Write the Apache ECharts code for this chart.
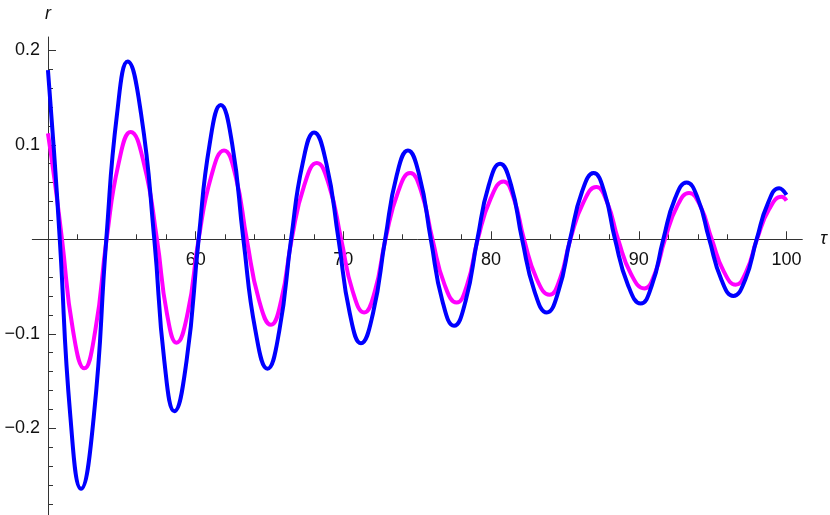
<!DOCTYPE html>
<html>
<head>
<meta charset="utf-8">
<script src="https://cdn.jsdelivr.net/npm/echarts@6/dist/echarts.min.js"></script>
<style>
html,body{margin:0;padding:0;background:#fff;}
#chart{width:830px;height:515px;}
</style>
</head>
<body>
<div id="chart"></div>
<script>
// Blue curve: [tau, r]
const blueSeries = [
  [50, 0.179], [50.4, 0.095], [50.8, 0], [51.52, -0.188], [52.24, -0.264], [53.1, -0.188],
  [53.95, 0], [54.68, 0.133], [55.4, 0.188], [56.3, 0.133], [57.2, 0], [57.88, -0.129],
  [58.56, -0.182], [59.38, -0.129], [60.2, 0], [60.95, 0.101], [61.7, 0.142], [62.47, 0.101],
  [63.23, 0], [64.05, -0.097], [64.86, -0.137], [65.66, -0.097], [66.46, 0], [67.24, 0.080],
  [68.02, 0.113], [68.85, 0.080], [69.67, 0], [70.43, -0.078], [71.19, -0.110], [72.01, -0.078],
  [72.83, 0], [73.6, 0.067], [74.37, 0.094], [75.15, 0.067], [75.92, 0], [76.7, -0.065],
  [77.49, -0.0915], [78.28, -0.065], [79.07, 0], [79.84, 0.057], [80.61, 0.080], [81.36, 0.057],
  [82.1, 0], [82.94, -0.055], [83.77, -0.0775], [84.56, -0.055], [85.35, 0], [86.15, 0.050],
  [86.94, 0.070], [87.67, 0.050], [88.39, 0], [89.26, -0.048], [90.13, -0.068], [90.9, -0.048],
  [91.66, 0], [92.45, 0.043], [93.24, 0.060], [94.0, 0.043], [94.77, 0], [95.6, -0.043],
  [96.4, -0.060], [97.2, -0.043], [97.98, 0], [98.74, 0.038], [99.5, 0.054], [100, 0.047]
];
// Magenta curve: [tau, r]
const magentaSeries = [
  [50, 0.112], [50.47, 0.06], [50.95, 0], [51.7, -0.097], [52.46, -0.1365], [53.2, -0.097],
  [53.97, 0], [54.78, 0.080], [55.6, 0.1135], [56.5, 0.080], [57.38, 0], [58.05, -0.078],
  [58.71, -0.1094], [59.46, -0.078], [60.2, 0], [61.06, 0.067], [61.92, 0.094], [62.7, 0.067],
  [63.46, 0], [64.28, -0.064], [65.1, -0.0905], [65.8, -0.064], [66.5, 0], [67.35, 0.057],
  [68.2, 0.0806], [69.03, 0.057], [69.85, 0], [70.63, -0.055], [71.41, -0.0775], [72.13, -0.055],
  [72.85, 0], [73.7, 0.050], [74.52, 0.070], [75.28, 0.050], [76.03, 0], [76.85, -0.048],
  [77.67, -0.067], [78.38, -0.048], [79.1, 0], [79.97, 0.043], [80.84, 0.0612], [81.54, 0.043],
  [82.23, 0], [83.09, -0.042], [83.95, -0.0587], [84.66, -0.042], [85.37, 0], [86.25, 0.039],
  [87.12, 0.0552], [87.86, 0.039], [88.6, 0], [89.48, -0.037], [90.37, -0.052], [91.07, -0.037],
  [91.77, 0], [92.6, 0.035], [93.4, 0.049], [94.17, 0.035], [94.94, 0], [95.75, -0.034],
  [96.56, -0.048], [97.28, -0.034], [98.0, 0], [98.83, 0.032], [99.67, 0.045], [100, 0.041]
];
const xMajorTicks = [60, 70, 80, 90, 100];
const xMinorTicks = [52, 54, 56, 58, 62, 64, 66, 68, 72, 74, 76, 78, 82, 84, 86, 88, 92, 94, 96, 98];
const yLabelTicks = [-0.2, -0.1, 0.1, 0.2];
const yMajorTicks = [-0.2, -0.1, 0.1, 0.2];
const yMinorTicks = [-0.28, -0.26, -0.24, -0.22, -0.18, -0.16, -0.14, -0.12, -0.08, -0.06, -0.04, -0.02,
  0.02, 0.04, 0.06, 0.08, 0.12, 0.14, 0.16, 0.18];
const xName = 'τ';
const yName = 'r';

const FONT = "'Liberation Sans', Arial, sans-serif";
const axisColor = '#333';
const X_MIN = 48.94, X_MAX = 101.07, Y_MIN = -0.2917, Y_MAX = 0.214;
const GRID_TOP = 37, GRID_H = 515 - GRID_TOP;
// pixel distance from grid bottom up to the r = 0 line
const zeroOffset = GRID_H * (0 - Y_MIN) / (Y_MAX - Y_MIN);

const chart = echarts.init(document.getElementById('chart'), null, {renderer: 'canvas'});
chart.setOption({
  animation: false,
  backgroundColor: '#fff',
  grid: {left: 32.3, right: 27.7, top: GRID_TOP, bottom: 0, containLabel: false, outerBoundsMode: 'none'},
  xAxis: [{
    type: 'value', min: X_MIN, max: X_MAX,
    name: xName, nameLocation: 'end', nameGap: 18,
    nameTextStyle: {fontFamily: FONT, fontSize: 18, fontStyle: 'italic', color: '#111', verticalAlign: 'middle'},
    axisLine: {onZero: true, lineStyle: {color: axisColor, width: 1}},
    axisTick: {show: true, inside: true, length: 8, customValues: xMajorTicks, lineStyle: {color: axisColor}},
    axisLabel: {show: false},
    splitLine: {show: false}
  }, {
    type: 'value', min: X_MIN, max: X_MAX, position: 'bottom',
    axisLine: {show: false, onZero: true},
    axisTick: {show: true, inside: true, length: 5, customValues: xMinorTicks, lineStyle: {color: axisColor}},
    axisLabel: {show: false},
    splitLine: {show: false}
  }, {
    type: 'value', min: X_MIN, max: X_MAX, position: 'bottom', offset: -zeroOffset,
    axisLine: {show: false, onZero: false},
    axisTick: {show: false},
    axisLabel: {customValues: xMajorTicks, margin: 12, fontFamily: FONT, fontSize: 18, color: '#111'},
    splitLine: {show: false}
  }],
  yAxis: [{
    type: 'value', min: Y_MIN, max: Y_MAX, position: 'left', offset: -15.7,
    name: yName, nameLocation: 'end', nameGap: 14,
    nameTextStyle: {fontFamily: FONT, fontSize: 18, fontStyle: 'italic', color: '#111', align: 'center'},
    axisLine: {show: true, onZero: false, lineStyle: {color: axisColor, width: 1}},
    axisTick: {show: true, inside: true, length: 8, customValues: yMajorTicks, lineStyle: {color: axisColor}},
    axisLabel: {
      customValues: yLabelTicks, margin: 8, fontFamily: FONT, fontSize: 18, color: '#111',
      formatter: v => (v < 0 ? '\u2212' + Math.abs(v) : String(v))
    },
    splitLine: {show: false}
  }, {
    type: 'value', min: Y_MIN, max: Y_MAX, position: 'left', offset: -15.7,
    axisLine: {show: false, onZero: false},
    axisTick: {show: true, inside: true, length: 5, customValues: yMinorTicks, lineStyle: {color: axisColor}},
    axisLabel: {show: false},
    splitLine: {show: false}
  }],
  series: [{
    type: 'line', xAxisIndex: 0, yAxisIndex: 0, data: magentaSeries, smooth: 0.5,
    showSymbol: false, lineStyle: {color: '#ff00ff', width: 4}, z: 2
  }, {
    type: 'line', xAxisIndex: 0, yAxisIndex: 0, data: blueSeries, smooth: 0.5,
    showSymbol: false, lineStyle: {color: '#0000ff', width: 4}, z: 3
  }]
});
</script>
</body>
</html>
